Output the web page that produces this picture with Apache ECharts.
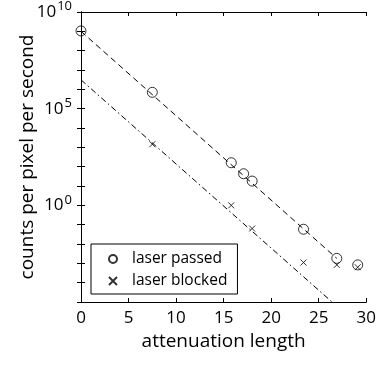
<!DOCTYPE html>
<html>
<head>
<meta charset="utf-8">
<script src="https://cdn.jsdelivr.net/npm/echarts@6/dist/echarts.min.js"></script>
<style>
  html, body { margin: 0; padding: 0; background: #fff; }
  #chart { width: 379px; height: 366px; }
</style>
</head>
<body>
<div id="chart"></div>
<script>
// attenuation length of each measurement
var passedX = [0, 7.5, 15.8, 17.1, 18.0, 23.4, 26.9, 29.1];
var passedY = [1.05e9, 7e5, 160, 43, 18, 0.058, 0.0018, 0.00083];
var blockedX = [7.5, 15.8, 18.0, 23.4, 26.9, 29.1];
var blockedY = [1450, 1.0, 0.063, 0.0011, 0.00083, 0.00063];
// fitted lines, endpoints
var fitPassed = [[0, 1e9], [26.9, 0.0018]];
var fitBlocked = [[0, 3.1e6], [26.4, 1e-5]];
var xTicks = { min: 0, max: 30, step: 5 };
var yRange = { min: 1e-5, max: 1e10 };

var font = 'Open Sans';
var chart = echarts.init(document.getElementById('chart'));

function pairs(xs, ys) {
  return xs.map(function (x, i) { return [x, ys[i]]; });
}

var cross = 'path://M0,0L10,10M10,0L0,10';

function yLabel(v) {
  var e = Math.round(Math.log10(v));
  if (e < 0 || e % 5 !== 0) return '';
  return '10{s|' + e + '}';
}

var tickIn = { show: true, inside: true, length: 4, lineStyle: { color: '#000' } };
var lineBlack = { show: true, lineStyle: { color: '#000', width: 1 } };

chart.setOption({
  animation: false,
  backgroundColor: '#fff',
  grid: { left: 81, top: 12, right: 6, bottom: 64, containLabel: false },
  legend: {
    orient: 'vertical',
    left: 91, top: 244,
    padding: [6, 10, 4, 17],
    itemGap: 4,
    itemWidth: 10, itemHeight: 8,
    borderColor: '#000', borderWidth: 1,
    backgroundColor: '#fff',
    textStyle: { fontFamily: font, fontSize: 15.5, lineHeight: 18, color: '#000', padding: [0, 0, 0, 9] },
    data: ['laser passed', 'laser blocked']
  },
  xAxis: [{
    type: 'value',
    min: xTicks.min, max: xTicks.max, interval: xTicks.step,
    name: 'attenuation length',
    nameLocation: 'middle', nameGap: 28,
    nameTextStyle: { fontFamily: font, fontSize: 19, color: '#000' },
    axisLine: lineBlack, axisTick: tickIn,
    axisLabel: { fontFamily: font, fontSize: 17, color: '#000', margin: 8 },
    splitLine: { show: false }
  }, {
    type: 'value', position: 'top',
    min: xTicks.min, max: xTicks.max, interval: xTicks.step,
    axisLine: lineBlack, axisTick: tickIn,
    axisLabel: { show: false }, splitLine: { show: false }
  }],
  yAxis: [{
    type: 'log', logBase: 10,
    min: yRange.min, max: yRange.max, interval: 1,
    name: 'counts per pixel per second',
    nameLocation: 'middle', nameGap: 44, nameMoveOverlap: false,
    nameTextStyle: { fontFamily: font, fontSize: 19, color: '#000' },
    axisLine: lineBlack, axisTick: tickIn,
    axisLabel: {
      fontFamily: font, fontSize: 17, color: '#000', margin: 9,
      formatter: yLabel,
      rich: { s: { fontFamily: font, fontSize: 13, color: '#000', padding: [0, 0, 11, 1] } }
    },
    splitLine: { show: false }
  }, {
    type: 'log', logBase: 10, position: 'right',
    min: yRange.min, max: yRange.max, interval: 1,
    axisLine: lineBlack, axisTick: tickIn,
    axisLabel: { show: false }, splitLine: { show: false }
  }],
  series: [{
    name: 'fit passed', type: 'line',
    data: fitPassed, showSymbol: false, silent: true,
    lineStyle: { color: '#000', width: 1, type: [6, 4] }
  }, {
    name: 'fit blocked', type: 'line',
    data: fitBlocked, showSymbol: false, silent: true,
    lineStyle: { color: '#000', width: 1, type: [6, 3, 1.5, 3] }
  }, {
    name: 'laser passed', type: 'scatter',
    data: pairs(passedX, passedY),
    symbol: 'circle', symbolSize: 10,
    itemStyle: { color: 'rgba(0,0,0,0)', borderColor: '#000', borderWidth: 1 }
  }, {
    name: 'laser blocked', type: 'scatter',
    data: pairs(blockedX, blockedY),
    symbol: cross, symbolSize: 6,
    itemStyle: { color: 'rgba(0,0,0,0)', borderColor: '#000', borderWidth: 1 }
  }]
});
</script>
</body>
</html>
